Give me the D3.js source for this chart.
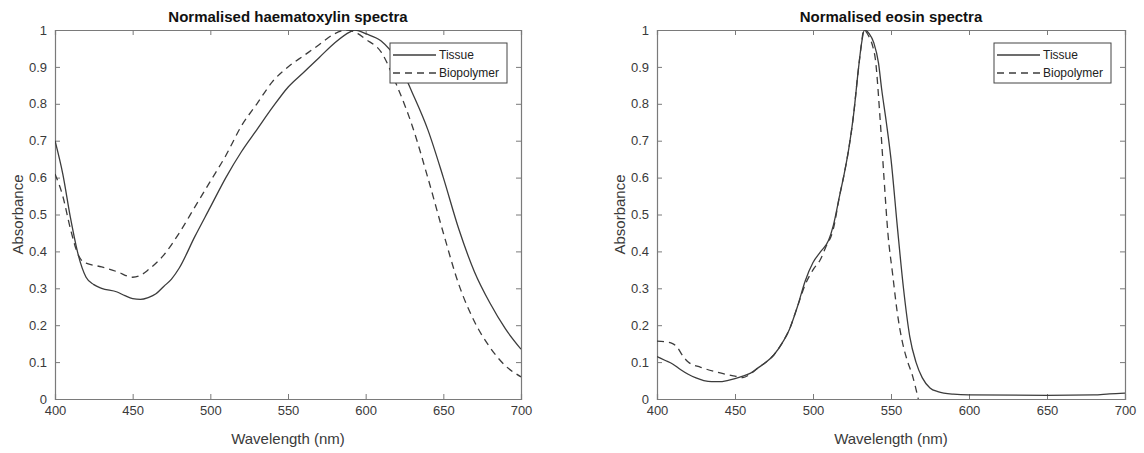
<!DOCTYPE html>
<html>
<head>
<meta charset="utf-8">
<script src="https://cdn.jsdelivr.net/npm/d3@7"></script>
<style>
  body { margin: 0; background: #fff; }
  svg { font-family: "Liberation Sans", Arial, sans-serif; }
</style>
</head>
<body>
<svg id="fig" width="1144" height="453"></svg>
<script>
// ---- data ----
const xTicks = [400, 450, 500, 550, 600, 650, 700];
const yTicks = [0, 0.1, 0.2, 0.3, 0.4, 0.5, 0.6, 0.7, 0.8, 0.9, 1];
const seriesNames = ["Tissue", "Biopolymer"];

// haematoxylin: wavelength / absorbance
const haemTissueWl = [400, 405, 410, 415, 420, 425, 430, 440, 445, 450, 455, 460, 465, 470, 475, 480, 490, 500, 510, 520, 530, 540, 550, 560, 570, 580, 590, 593, 600, 610, 620, 630, 640, 650, 660, 670, 680, 690, 700];
const haemTissueAbs = [0.70, 0.61, 0.49, 0.39, 0.33, 0.31, 0.30, 0.29, 0.28, 0.272, 0.27, 0.275, 0.285, 0.305, 0.325, 0.355, 0.44, 0.52, 0.60, 0.67, 0.73, 0.79, 0.845, 0.885, 0.925, 0.965, 0.995, 1.0, 0.99, 0.97, 0.92, 0.83, 0.73, 0.60, 0.46, 0.345, 0.26, 0.19, 0.135];
const haemBioWl = [400, 405, 410, 415, 418, 420, 430, 440, 450, 455, 460, 470, 480, 490, 500, 510, 520, 530, 540, 550, 560, 570, 580, 588, 595, 600, 610, 620, 630, 640, 650, 660, 670, 680, 690, 700];
const haemBioAbs = [0.61, 0.55, 0.46, 0.39, 0.372, 0.368, 0.358, 0.345, 0.33, 0.335, 0.35, 0.39, 0.45, 0.52, 0.59, 0.66, 0.74, 0.80, 0.86, 0.90, 0.93, 0.96, 0.99, 1.0, 0.99, 0.975, 0.94, 0.85, 0.74, 0.60, 0.45, 0.31, 0.21, 0.14, 0.09, 0.06];

// eosin: wavelength / absorbance
const eosTissueWl = [400, 405, 410, 415, 420, 425, 430, 435, 440, 445, 450, 455, 460, 465, 470, 475, 480, 485, 490, 495, 500, 505, 510, 513, 517, 520, 523, 526, 529, 531, 533, 536, 539, 542, 544, 547, 550, 554, 558, 562, 566, 570, 575, 580, 590, 600, 650, 680, 690, 700];
const eosTissueAbs = [0.115, 0.105, 0.095, 0.08, 0.067, 0.057, 0.05, 0.047, 0.047, 0.05, 0.055, 0.062, 0.07, 0.085, 0.10, 0.12, 0.15, 0.19, 0.25, 0.32, 0.37, 0.40, 0.43, 0.47, 0.55, 0.61, 0.68, 0.77, 0.89, 0.96, 1.0, 0.99, 0.965, 0.91, 0.84, 0.75, 0.65, 0.47, 0.30, 0.17, 0.10, 0.058, 0.03, 0.02, 0.013, 0.011, 0.01, 0.011, 0.014, 0.016];
const eosBioWl = [400, 405, 410, 413, 416, 420, 428, 439, 450, 455, 460, 465, 470, 475, 480, 485, 490, 495, 500, 505, 508, 513, 517, 520, 523, 526, 529, 531, 532.5, 535.5, 538, 540, 543, 545.5, 548, 551, 554, 557, 560, 564, 567.5];
const eosBioAbs = [0.157, 0.155, 0.15, 0.14, 0.12, 0.10, 0.086, 0.072, 0.062, 0.058, 0.068, 0.085, 0.10, 0.12, 0.15, 0.19, 0.25, 0.31, 0.35, 0.38, 0.41, 0.46, 0.55, 0.61, 0.68, 0.77, 0.89, 0.96, 1.0, 0.985, 0.96, 0.92, 0.76, 0.60, 0.45, 0.34, 0.235, 0.16, 0.11, 0.06, 0.0];

const zip = (xs, ys) => xs.map((x, i) => [x, ys[i]]);

const panels = [
  {title: "Normalised haematoxylin spectra", left: 55, right: 521,
   series: [zip(haemTissueWl, haemTissueAbs), zip(haemBioWl, haemBioAbs)]},
  {title: "Normalised eosin spectra", left: 657, right: 1125,
   series: [zip(eosTissueWl, eosTissueAbs), zip(eosBioWl, eosBioAbs)]}
];

const plotTop = 30, plotBottom = 399;
const axisCol = "#7a7a7a", lineCol = "#3c3c3c";
const dashes = [null, "7,5"];

var svg = d3.select("#fig");

panels.forEach((p, pi) => {
  let width = p.right - p.left, height = plotBottom - plotTop;
  let x = d3.scaleLinear().domain([400, 700]).range([0, width]);
  let y = d3.scaleLinear().domain([0, 1]).range([height, 0]);

  let g = svg.append("g").attr("transform", `translate(${p.left},${plotTop})`);

  g.append("clipPath").attr("id", "clip" + pi)
    .append("rect").attr("width", width).attr("height", height);

  // axes, ticks pointing inwards on all four sides
  let fmt = d => d3.format("~g")(d);
  let bx = g.append("g").attr("transform", `translate(0,${height})`)
    .call(d3.axisBottom(x).tickValues(xTicks).tickSize(-5).tickPadding(7));
  let tx = g.append("g")
    .call(d3.axisTop(x).tickValues(xTicks).tickSize(-5).tickFormat(""));
  let ly = g.append("g")
    .call(d3.axisLeft(y).tickValues(yTicks).tickSize(-5).tickPadding(8).tickFormat(fmt));
  let ry = g.append("g").attr("transform", `translate(${width},0)`)
    .call(d3.axisRight(y).tickValues(yTicks).tickSize(-5).tickFormat(""));
  [bx, tx, ly, ry].forEach(a => {
    a.selectAll(".domain").attr("stroke", axisCol).attr("stroke-width", 1.2);
    a.selectAll(".tick line").attr("stroke", axisCol);
    a.selectAll(".tick text").style("font-size", "13px").attr("fill", "#3a3a3a");
  });
  // drop end ticks at the box corners
  [bx, tx].forEach(a => a.selectAll(".tick").filter(d => d == 400 || d == 700).select("line").remove());
  [ly, ry].forEach(a => a.selectAll(".tick").filter(d => d == 0 || d == 1).select("line").remove());

  // curves
  let line = d3.line().x(d => x(d[0])).y(d => y(d[1])).curve(d3.curveMonotoneX);
  p.series.forEach((s, si) => {
    g.append("path").datum(s)
      .attr("clip-path", `url(#clip${pi})`)
      .attr("fill", "none")
      .attr("stroke", lineCol)
      .attr("stroke-width", 1.3)
      .attr("stroke-dasharray", dashes[si])
      .attr("d", line);
  });

  // title and axis labels
  g.append("text").attr("x", width / 2).attr("y", -8)
    .attr("text-anchor", "middle").style("font-size", "15px").style("font-weight", "bold")
    .attr("fill", "#111").text(p.title);
  g.append("text").attr("x", width / 2).attr("y", height + 45)
    .attr("text-anchor", "middle").style("font-size", "15px").attr("fill", "#3a3a3a")
    .text("Wavelength (nm)");
  g.append("text").attr("transform", `translate(-32,${height / 2}) rotate(-90)`)
    .attr("text-anchor", "middle").style("font-size", "15px").attr("fill", "#3a3a3a")
    .text("Absorbance");

  // legend
  let lw = 117, lh = 40;
  let lg = g.append("g").attr("transform", `translate(${width - lw - 14},${13})`);
  lg.append("rect").attr("width", lw).attr("height", lh)
    .attr("fill", "#fff").attr("stroke", "#444").attr("stroke-width", 1);
  seriesNames.forEach((n, i) => {
    let yy = 12 + i * 18;
    lg.append("line").attr("x1", 3).attr("x2", 46).attr("y1", yy).attr("y2", yy)
      .attr("stroke", lineCol).attr("stroke-width", 1.3).attr("stroke-dasharray", dashes[i]);
    lg.append("text").attr("x", 49).attr("y", yy + 4)
      .style("font-size", "12px").attr("fill", "#222").text(n);
  });
});
</script>
</body>
</html>
